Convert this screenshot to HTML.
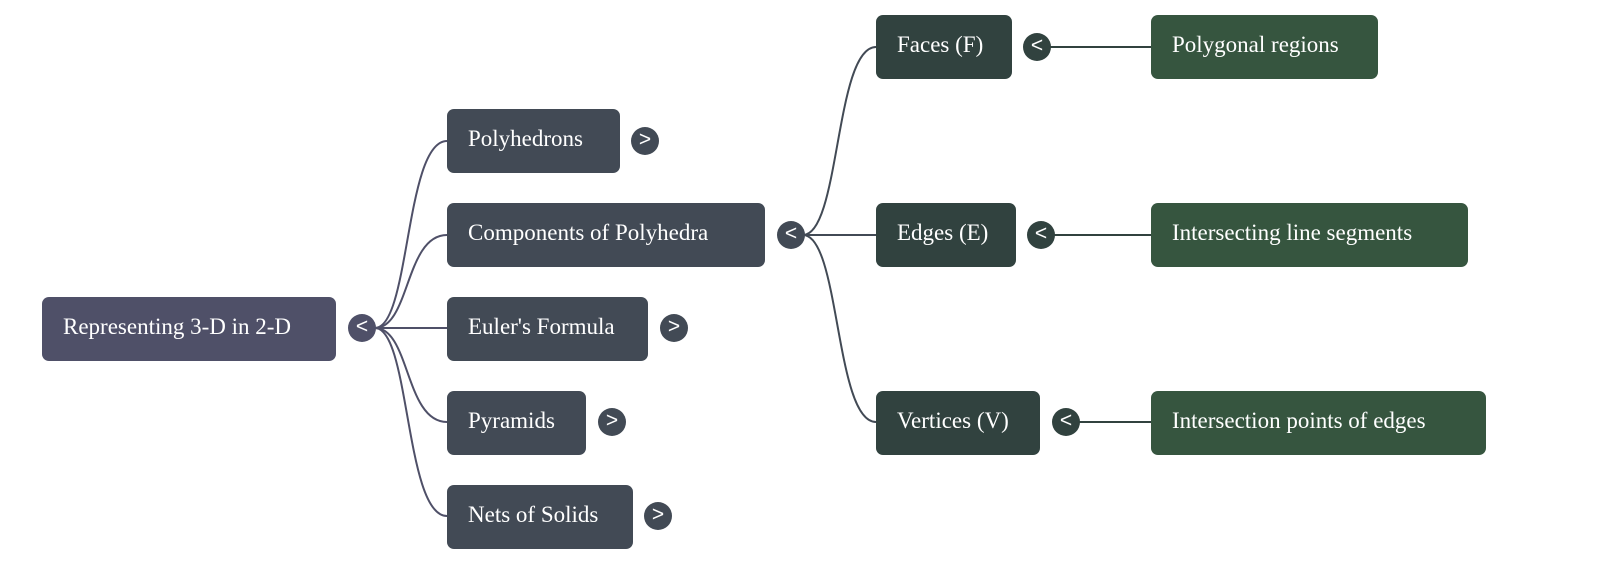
<!DOCTYPE html>
<html><head><style>
body{margin:0;width:1600px;height:576px;background:#fff;position:relative;overflow:hidden;font-family:"Liberation Serif",serif}
.n{position:absolute;height:64px;border-radius:7px;color:#fff;font-size:23px;line-height:60px;padding-left:21px;box-sizing:border-box;white-space:nowrap}
.r{background:#4f5068}.a{background:#424a55}.b{background:#31423f}.c{background:#36553f}
.t{position:absolute;width:28px;height:28px;border-radius:50%;color:#fff;font-family:"Liberation Sans",sans-serif;font-size:21px;line-height:26px;text-align:center;margin:-14px 0 0 -14px}
svg{position:absolute;left:0;top:0}
</style></head><body>
<svg width="1600" height="576" fill="none" stroke-width="2">
<g stroke="#4f5068">
<path d="M375,328 C410,328 405,141 447,141"/>
<path d="M375,328 C410,328 405,235 447,235"/>
<path d="M375,328 L447,328"/>
<path d="M375,328 C410,328 405,422 447,422"/>
<path d="M375,328 C410,328 405,516 447,516"/>
</g>
<g stroke="#424a55">
<path d="M803,235 C840,235 835,47 876,47"/>
<path d="M803,235 L876,235"/>
<path d="M803,235 C840,235 835,422 876,422"/>
</g>
<g stroke="#31423f">
<path d="M1050,47 L1151,47"/>
<path d="M1054,235 L1151,235"/>
<path d="M1079,422 L1151,422"/>
</g>
</svg>
<div class="n r" style="left:42px;top:297px;width:294px">Representing 3-D in 2-D</div>
<div class="t r" style="left:362px;top:328px">&lt;</div>
<div class="n a" style="left:447px;top:109px;width:173px">Polyhedrons</div>
<div class="t a" style="left:645px;top:141px">&gt;</div>
<div class="n a" style="left:447px;top:203px;width:318px">Components of Polyhedra</div>
<div class="t a" style="left:791px;top:235px">&lt;</div>
<div class="n a" style="left:447px;top:297px;width:201px">Euler's Formula</div>
<div class="t a" style="left:674px;top:328px">&gt;</div>
<div class="n a" style="left:447px;top:391px;width:139px">Pyramids</div>
<div class="t a" style="left:612px;top:422px">&gt;</div>
<div class="n a" style="left:447px;top:485px;width:186px">Nets of Solids</div>
<div class="t a" style="left:658px;top:516px">&gt;</div>
<div class="n b" style="left:876px;top:15px;width:136px">Faces (F)</div>
<div class="t b" style="left:1037px;top:47px">&lt;</div>
<div class="n b" style="left:876px;top:203px;width:140px">Edges (E)</div>
<div class="t b" style="left:1041px;top:235px">&lt;</div>
<div class="n b" style="left:876px;top:391px;width:164px">Vertices (V)</div>
<div class="t b" style="left:1066px;top:422px">&lt;</div>
<div class="n c" style="left:1151px;top:15px;width:227px">Polygonal regions</div>
<div class="n c" style="left:1151px;top:203px;width:317px">Intersecting line segments</div>
<div class="n c" style="left:1151px;top:391px;width:335px">Intersection points of edges</div>
</body></html>
